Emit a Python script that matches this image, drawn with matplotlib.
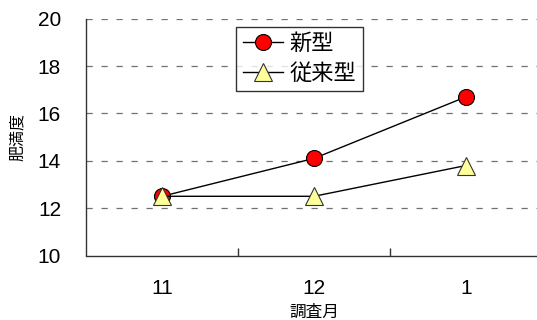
import matplotlib
matplotlib.use("Agg")
import matplotlib.pyplot as plt
from matplotlib.ticker import FixedLocator

plt.rcParams['font.family'] = ['Liberation Sans', 'Noto Sans CJK JP']

months = ['11', '12', '1']
new_type = [12.5, 14.1, 16.7]
old_type = [12.5, 12.5, 13.8]
yticks = [10, 12, 14, 16, 18, 20]

fig = plt.figure(figsize=(5.37, 3.2), dpi=100)
ax = fig.add_axes([86/537, (320-255.5)/320, (542-86)/537, (255.5-18.7)/320])

x = list(range(len(months)))
ax.plot(x, new_type, color='black', lw=1, marker='o', markersize=11.5,
        markerfacecolor='#FF0000', markeredgecolor='black', markeredgewidth=0.8,
        label='新型', zorder=3)
ax.plot(x, old_type, color='black', lw=1, marker='^', markersize=13.5,
        markerfacecolor='#FFFF99', markeredgecolor='#333333', markeredgewidth=0.8,
        label='従来型', zorder=4)

ax.set_xlim(-0.5, 2.5)
ax.set_ylim(10, 20)
ax.set_yticks(yticks)
ax.set_xticks(x)
ax.set_xticklabels(months)
ax.xaxis.set_minor_locator(FixedLocator([0.5, 1.5, 2.5]))
ax.tick_params(axis='x', which='major', length=0, pad=17, labelsize=15)
ax.tick_params(axis='x', which='minor', length=6, direction='in', width=1, color='#333333')
ax.tick_params(axis='y', length=0, pad=18, labelsize=15)

for yv in yticks[1:]:
    ax.axhline(yv, color='#707070', lw=0.9, linestyle=(0, (5, 7)), zorder=1)

for s in ['top', 'right']:
    ax.spines[s].set_visible(False)
for s in ['left', 'bottom']:
    ax.spines[s].set_color('#333333')
    ax.spines[s].set_linewidth(1)

ax.set_ylabel('肥満度', fontsize=11.5, labelpad=9)
ax.set_xlabel('調査月', fontsize=12, labelpad=5)

leg = fig.legend(loc='upper left', bbox_to_anchor=(236/537, 1-27/320),
                 fontsize=16, handlelength=1.8, frameon=True, fancybox=False,
                 edgecolor='black', borderpad=0.3, labelspacing=0.4,
                 handletextpad=0.3, borderaxespad=0)
leg.get_frame().set_linewidth(1)

fig.savefig('out.png', dpi=100)
